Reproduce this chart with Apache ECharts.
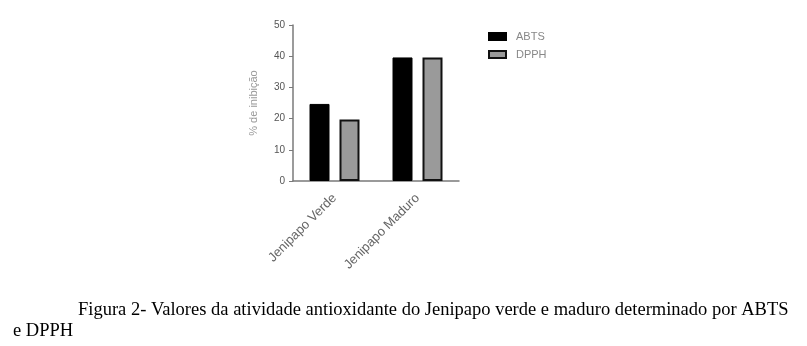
<!DOCTYPE html>
<html>
<head>
<meta charset="utf-8">
<script src="https://cdn.jsdelivr.net/npm/echarts@6/dist/echarts.min.js"></script>
<style>
  html, body { margin: 0; padding: 0; background: #fff; }
  #chart { width: 807px; height: 346px; }
</style>
</head>
<body>
<div id="chart"></div>
<script>
// Antioxidant activity (% inhibition) of green and ripe jenipapo
var categories = ['Jenipapo Verde', 'Jenipapo Maduro'];
var abtsValues = [24.7, 39.6];
var dpphValues = [19.7, 39.6];
var yTicks = [0, 10, 20, 30, 40, 50];
var seriesNames = ['ABTS', 'DPPH'];
var captionLine1 = 'Figura 2- Valores da atividade antioxidante do Jenipapo verde e maduro determinado por ABTS';
var captionLine2 = 'e DPPH';
var yAxisName = '% de inibição';

var chart = echarts.init(document.getElementById('chart'));

var axisGray = '#7a7a7a';
var textGray = '#555';
var captionFont = '18.5px "Liberation Serif", "Times New Roman", serif';

chart.setOption({
  animation: false,
  backgroundColor: '#fff',
  grid: { left: 293, top: 25, width: 166, height: 156, containLabel: false },
  legend: {
    left: 488, top: 31, padding: 0, orient: 'vertical', itemGap: 7,
    itemWidth: 17, itemHeight: 7, icon: 'rect',
    textStyle: { color: '#888', fontFamily: 'Arial, Liberation Sans', fontSize: 11, padding: [0, 0, 0, 5] },
    data: seriesNames
  },
  xAxis: {
    type: 'category',
    data: categories,
    boundaryGap: true,
    axisLine: { lineStyle: { color: axisGray, width: 1.5 } },
    axisTick: { alignWithLabel: true, length: 4, lineStyle: { color: axisGray } },
    axisLabel: {
      rotate: 45, interval: 0, margin: 15,
      color: '#666', fontFamily: 'Arial, Liberation Sans', fontSize: 13
    }
  },
  yAxis: {
    type: 'value',
    min: yTicks[0], max: yTicks[yTicks.length - 1], interval: 10,
    name: yAxisName, nameLocation: 'middle', nameGap: 34, nameRotate: 90,
    nameTextStyle: { color: '#999', fontFamily: 'Arial, Liberation Sans', fontSize: 11 },
    axisLine: { show: true, lineStyle: { color: axisGray, width: 1.5 } },
    axisTick: { show: true, length: 4, lineStyle: { color: axisGray } },
    splitLine: { show: false },
    axisLabel: { color: textGray, fontFamily: 'Arial, Liberation Sans', fontSize: 10, margin: 8 }
  },
  series: [
    {
      name: seriesNames[0], type: 'bar', data: abtsValues,
      barWidth: 20, barGap: '50%',
      itemStyle: { color: '#000', borderColor: '#000', borderWidth: 1 }
    },
    {
      name: seriesNames[1], type: 'bar', data: dpphValues,
      barWidth: 20,
      itemStyle: { color: '#9a9a9a', borderColor: '#111', borderWidth: 2 }
    }
  ],
  graphic: [
    {
      type: 'text', left: 78, top: 301,
      style: { text: captionLine1, fill: '#000', font: captionFont }
    },
    {
      type: 'text', left: 13, top: 322,
      style: { text: captionLine2, fill: '#000', font: captionFont }
    }
  ]
});
</script>
</body>
</html>
